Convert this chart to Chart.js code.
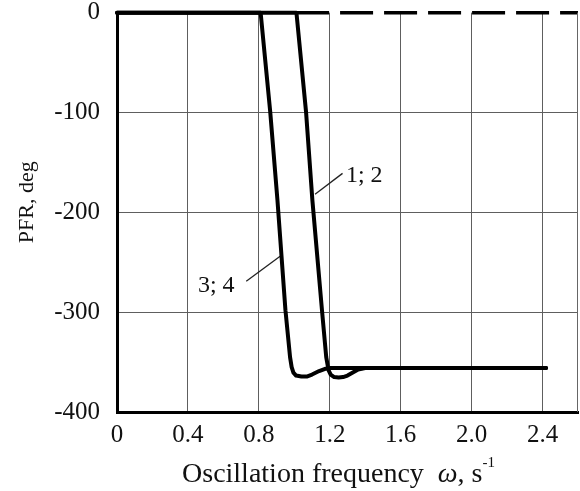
<!DOCTYPE html>
<html>
<head>
<meta charset="utf-8">
<script src="https://cdn.jsdelivr.net/npm/chart.js@4.4.1/dist/chart.umd.min.js"></script>
<style>
  body { margin: 0; background: #fff; }
</style>
</head>
<body>
<canvas id="pfrChart" width="580" height="491"></canvas>
<script>
// curves 1; 2 and 3; 4 (omega in 1/s, PFR in deg)
const omega12 = [0, 1.012, 1.066, 1.102, 1.156, 1.180, 1.193, 1.205, 1.225, 1.25, 1.275, 1.30, 1.33, 1.36, 1.40, 2.42];
const pfr12 = [0, 0, -99, -188, -298, -345, -358, -362.5, -365, -365.5, -365, -363.5, -360.5, -357.5, -356, -356];
const omega34 = [0, 0.81, 0.864, 0.905, 0.95, 0.976, 0.985, 0.995, 1.01, 1.04, 1.07, 1.10, 1.14, 1.17, 1.20, 2.42];
const pfr34 = [0, 0, -99, -188, -298, -345, -355, -360.5, -363.5, -364.5, -364.5, -362.5, -359, -357, -356, -356];
const omegaRef = [1.01, 2.6];
const pfrRef = [0, 0];

const xTickLabels = ['0', '0.4', '0.8', '1.2', '1.6', '2.0', '2.4'];

// curve captions and their leader lines
const curveNames = ['1; 2', '3; 4'];
const nameOmega = [1.291, 0.663];
const namePfr = [-163, -274];
const leaderOmega12 = [1.117, 1.272];
const leaderPfr12 = [-182, -161];
const leaderOmega34 = [0.729, 0.92];
const leaderPfr34 = [-269, -244];

const toPoints = (xs, ys) => xs.map((x, i) => ({ x, y: ys[i] }));
const serif = '"Liberation Serif", "Times New Roman", serif';

const curveStyle = {
  borderColor: '#000',
  borderWidth: 4,
  borderJoinStyle: 'round',
  borderCapStyle: 'round',
  pointRadius: 0,
  tension: 0,
  clip: false
};

const overlay = {
  id: 'overlay',
  afterDatasetsDraw(chart) {
    const { ctx, chartArea, scales: { x, y } } = chart;
    ctx.save();

    // thin frame line on the right side
    ctx.strokeStyle = '#666';
    ctx.lineWidth = 1;
    ctx.beginPath();
    ctx.moveTo(chartArea.right - 0.5, chartArea.top);
    ctx.lineTo(chartArea.right - 0.5, chartArea.bottom);
    ctx.stroke();

    // curve names
    ctx.fillStyle = '#111';
    ctx.font = '24px ' + serif;
    ctx.textBaseline = 'middle';
    curveNames.forEach((name, i) => {
      ctx.textAlign = i === 0 ? 'left' : 'right';
      ctx.fillText(name, x.getPixelForValue(nameOmega[i]), y.getPixelForValue(namePfr[i]));
    });

    // y axis title, a little above the middle like the original
    ctx.save();
    ctx.translate(27, (chartArea.top + chartArea.bottom) / 2 - 10);
    ctx.rotate(-Math.PI / 2);
    ctx.textAlign = 'center';
    ctx.font = '22px ' + serif;
    ctx.fillText('PFR, deg', 0, 0);
    ctx.restore();

    // x axis title: italic omega and superscript unit
    const parts = [
      { text: 'Oscillation frequency  ', font: '28px ' + serif, dy: 0 },
      { text: 'ω', font: 'italic 28px ' + serif, dy: 0 },
      { text: ', s', font: '28px ' + serif, dy: 0 },
      { text: '-1', font: '15px ' + serif, dy: -15 }
    ];
    let total = 0;
    parts.forEach(p => { ctx.font = p.font; p.w = ctx.measureText(p.text).width; total += p.w; });
    let px = (chartArea.left + chartArea.right) / 2 - 9 - total / 2;
    const base = chartArea.bottom + 70;
    ctx.textAlign = 'left';
    ctx.textBaseline = 'alphabetic';
    parts.forEach(p => {
      ctx.font = p.font;
      ctx.fillText(p.text, px, base + p.dy);
      px += p.w;
    });
    ctx.restore();
  }
};

new Chart(document.getElementById('pfrChart').getContext('2d'), {
  type: 'line',
  data: {
    datasets: [
      { label: '1; 2', data: toPoints(omega12, pfr12), ...curveStyle },
      { label: '3; 4', data: toPoints(omega34, pfr34), ...curveStyle },
      { label: 'ref', data: toPoints(omegaRef, pfrRef), ...curveStyle, borderWidth: 3.5, borderCapStyle: 'butt', borderDash: [33, 11] },
      { label: 'leader12', data: toPoints(leaderOmega12, leaderPfr12), borderColor: '#222', borderWidth: 1.3, pointRadius: 0 },
      { label: 'leader34', data: toPoints(leaderOmega34, leaderPfr34), borderColor: '#222', borderWidth: 1.3, pointRadius: 0 }
    ]
  },
  options: {
    responsive: false,
    animation: false,
    layout: { padding: { top: 0, right: 2, left: 0, bottom: 0 } },
    plugins: {
      legend: { display: false },
      tooltip: { enabled: false }
    },
    scales: {
      x: {
        type: 'linear',
        min: 0,
        max: 2.6,
        afterFit: scale => { scale.height = 79; },
        border: { color: '#000', width: 3 },
        grid: { color: '#5e5e5e', lineWidth: 1, drawTicks: false },
        ticks: {
          stepSize: 0.4,
          includeBounds: false,
          autoSkip: false,
          maxRotation: 0,
          padding: 13,
          color: '#111',
          font: { family: serif, size: 25, lineHeight: 0.85 },
          callback: (v, i) => xTickLabels[i] ?? ''
        }
      },
      y: {
        type: 'linear',
        min: -400,
        max: 0,
        afterFit: scale => { scale.width = 117; },
        border: { color: '#000', width: 3 },
        grid: {
          color: ctx => ctx.tick && ctx.tick.value === 0 ? 'rgba(0,0,0,0)' : '#5e5e5e',
          lineWidth: 1,
          drawTicks: true,
          tickLength: 15,
          tickColor: 'rgba(0,0,0,0)'
        },
        ticks: {
          stepSize: 100,
          padding: 2,
          color: '#111',
          font: { family: serif, size: 25, lineHeight: 0.85 }
        }
      }
    }
  },
  plugins: [overlay]
});
</script>
</body>
</html>
